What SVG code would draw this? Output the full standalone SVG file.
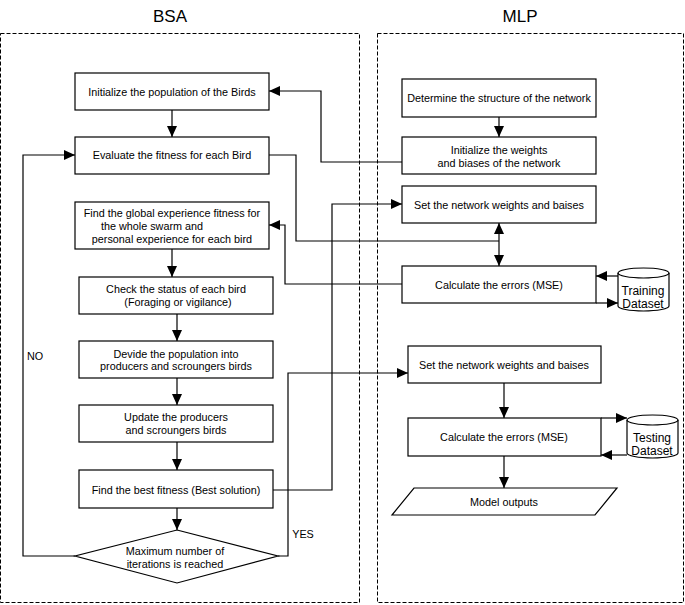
<svg xmlns="http://www.w3.org/2000/svg" width="685" height="605" viewBox="0 0 685 605">
<style>
.box{fill:#fff;stroke:#000;stroke-width:1.2}
.frame{fill:none;stroke:#000;stroke-width:1;stroke-dasharray:4,2}
.t{font-family:"Liberation Sans",Arial,sans-serif;font-size:10.8px;text-anchor:middle;fill:#000}
.ct{font-family:"Liberation Sans",Arial,sans-serif;font-size:12px;text-anchor:middle;fill:#000}
.title{font-family:"Liberation Sans",Arial,sans-serif;font-size:17px;text-anchor:middle;fill:#000}
.c{fill:none;stroke:#000;stroke-width:1.2}
</style>
<defs>
<marker id="ah" markerUnits="userSpaceOnUse" markerWidth="12" markerHeight="10" refX="11" refY="5" orient="auto">
<path d="M0,0 L11,5 L0,10 Z" fill="#000"/>
</marker>
<marker id="ahs" markerUnits="userSpaceOnUse" markerWidth="12" markerHeight="10" refX="0" refY="5" orient="auto">
<path d="M11,0 L0,5 L11,10 Z" fill="#000"/>
</marker>
</defs>
<rect width="685" height="605" fill="#fff"/>
<g id="frames">
<rect class="frame" x="0.5" y="33.5" width="359" height="569"/>
<rect class="frame" x="377.5" y="33.5" width="306" height="569"/>
<text class="title" x="170" y="22">BSA</text>
<text class="title" x="520" y="22">MLP</text>
</g>
<g id="connectors">
<path class="c" d="M172,110 V137" marker-end="url(#ah)"/>
<path class="c" d="M172,249 V277" marker-end="url(#ah)"/>
<path class="c" d="M177,314 V341" marker-end="url(#ah)"/>
<path class="c" d="M177,378 V405" marker-end="url(#ah)"/>
<path class="c" d="M177,442 V470" marker-end="url(#ah)"/>
<path class="c" d="M177,508 V530" marker-end="url(#ah)"/>
<path class="c" d="M75,556 H23 V155 H75" marker-end="url(#ah)"/>
<path class="c" d="M278,556 H288 V373 H408" marker-end="url(#ah)"/>
<path class="c" d="M269,155 H296 V241 H499"/>
<path class="c" d="M273,490 H332 V204 H402" marker-end="url(#ah)"/>
<path class="c" d="M402,284 H285 V225 H269" marker-end="url(#ah)"/>
<path class="c" d="M402,162 H321 V91 H269" marker-end="url(#ah)"/>
<path class="c" d="M499,117 V137" marker-end="url(#ah)"/>
<path class="c" d="M499,223 V266" marker-start="url(#ahs)" marker-end="url(#ah)"/>
<path class="c" d="M618,276 H596" marker-end="url(#ah)"/>
<path class="c" d="M596,303 H618" marker-end="url(#ah)"/>
<path class="c" d="M504,383 V418" marker-end="url(#ah)"/>
<path class="c" d="M601,418 H627" marker-end="url(#ah)"/>
<path class="c" d="M627,455 H601" marker-end="url(#ah)"/>
<path class="c" d="M504,456 V488" marker-end="url(#ah)"/>
<text class="t" x="35" y="360">NO</text>
<text class="t" x="303" y="538">YES</text>
</g>
<g id="n_init_pop">
<rect class="box" x="75" y="73" width="194" height="37"/>
<text class="t" x="172" y="96">Initialize the population of the Birds</text>
</g>
<g id="n_eval">
<rect class="box" x="75" y="137" width="194" height="37"/>
<text class="t" x="172" y="159">Evaluate the fitness for each Bird</text>
</g>
<g id="n_global">
<rect class="box" x="75" y="202" width="194" height="47"/>
<text class="t" x="172" y="217">Find the global experience fitness for</text>
<text class="t" x="152" y="230">the whole swarm and</text>
<text class="t" x="172" y="243">personal experience for each bird</text>
</g>
<g id="n_check">
<rect class="box" x="79" y="277" width="194" height="37"/>
<text class="t" x="176" y="293">Check the status of each bird</text>
<text class="t" x="178" y="306">(Foraging or vigilance)</text>
</g>
<g id="n_divide">
<rect class="box" x="79" y="341" width="194" height="37"/>
<text class="t" x="176" y="358">Devide the population into</text>
<text class="t" x="176" y="370">producers and scroungers birds</text>
</g>
<g id="n_update">
<rect class="box" x="79" y="405" width="194" height="37"/>
<text class="t" x="176" y="421">Update the producers</text>
<text class="t" x="176" y="434">and scroungers birds</text>
</g>
<g id="n_best">
<rect class="box" x="79" y="470" width="194" height="38"/>
<text class="t" x="176" y="494">Find the best fitness (Best solution)</text>
</g>
<g id="n_max">
<polygon class="box" points="177,530 278,556 177,583 75,556"/>
<text class="t" x="175" y="555">Maximum number of</text>
<text class="t" x="175" y="568">iterations is reached</text>
</g>
<g id="n_structure">
<rect class="box" x="402" y="79" width="194" height="38"/>
<text class="t" x="499" y="102">Determine the structure of the network</text>
</g>
<g id="n_init_w">
<rect class="box" x="402" y="137" width="194" height="37"/>
<text class="t" x="499" y="154">Initialize the weights</text>
<text class="t" x="499" y="167">and biases of the network</text>
</g>
<g id="n_set1">
<rect class="box" x="402" y="186" width="194" height="37"/>
<text class="t" x="499" y="209">Set the network weights and baises</text>
</g>
<g id="n_calc1">
<rect class="box" x="402" y="266" width="194" height="37"/>
<text class="t" x="499" y="289">Calculate the errors (MSE)</text>
</g>
<g id="n_training">
<path class="box" d="M618,273 A25.5,5 0 0 1 669,273 V306 A25.5,5 0 0 1 618,306 Z"/>
<path class="c" d="M618,273 A25.5,5 0 0 0 669,273"/>
<text class="ct" x="643" y="295">Training</text>
<text class="ct" x="643" y="308">Dataset</text>
</g>
<g id="n_set2">
<rect class="box" x="408" y="346" width="193" height="37"/>
<text class="t" x="504" y="369">Set the network weights and baises</text>
</g>
<g id="n_calc2">
<rect class="box" x="408" y="418" width="193" height="38"/>
<text class="t" x="504" y="441">Calculate the errors (MSE)</text>
</g>
<g id="n_testing">
<path class="box" d="M627,420 A25.5,5 0 0 1 678,420 V453 A25.5,5 0 0 1 627,453 Z"/>
<path class="c" d="M627,420 A25.5,5 0 0 0 678,420"/>
<text class="ct" x="652" y="442">Testing</text>
<text class="ct" x="652" y="455">Dataset</text>
</g>
<g id="n_output">
<polygon class="box" points="414,488 617,488 595,515 392,515"/>
<text class="t" x="504" y="506">Model outputs</text>
</g>
</svg>
